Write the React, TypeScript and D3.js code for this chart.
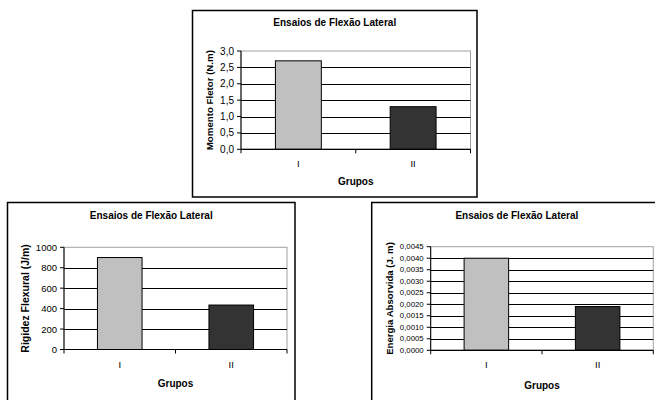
import React from "react";
import * as d3 from "d3";

// Groups compared in every chart
const categories: string[] = ["I", "II"];

// Momento fletor (N.m) per group
const momentoValues: number[] = [2.7, 1.3];
const momentoTicks: number[] = [0, 0.5, 1.0, 1.5, 2.0, 2.5, 3.0];

// Rigidez flexural (J/m) per group
const rigidezValues: number[] = [900, 435];
const rigidezTicks: number[] = [0, 200, 400, 600, 800, 1000];

// Energia absorvida (J.m) per group
const energiaValues: number[] = [0.004, 0.0019];
const energiaTicks: number[] = [
  0, 0.0005, 0.001, 0.0015, 0.002, 0.0025, 0.003, 0.0035, 0.004, 0.0045,
];

const chartTitle = "Ensaios de Flexão Lateral";
const xTitle = "Grupos";
const barColors = ["#c0c0c0", "#333333"];
const FONT = "'Liberation Sans', Arial, Helvetica, sans-serif";

type Box = { x0: number; y0: number; x1: number; y1: number };

interface BarChartProps {
  frame: Box;
  plot: Box;
  values: number[];
  ticks: number[];
  fmt: (v: number) => string;
  yTitle: string;
  yTitleX: number;
  yTitleSize: number;
  tickSize: number;
  titleY: number;
  catY: number;
  xTitleY: number;
}

const commaFmt = (spec: string) => (v: number) =>
  d3.format(spec)(v).replace(".", ",");

function BarChart(p: BarChartProps) {
  const { frame, plot, values, ticks } = p;
  const y = d3
    .scaleLinear()
    .domain([0, ticks[ticks.length - 1]])
    .range([plot.y1, plot.y0]);
  const x = d3
    .scaleBand<string>()
    .domain(categories)
    .range([plot.x0, plot.x1])
    .paddingInner(0.6)
    .paddingOuter(0.3);
  const step = x.step();
  const boundaries = d3.range(categories.length + 1).map((i) => plot.x0 + i * step);
  const frameCx = (frame.x0 + frame.x1) / 2;
  const plotCx = (plot.x0 + plot.x1) / 2;
  const plotCy = (plot.y0 + plot.y1) / 2;
  const yMax = ticks[ticks.length - 1];

  return (
    <g fontFamily={FONT} fill="#000">
      {/* chart area */}
      <rect
        x={frame.x0}
        y={frame.y0}
        width={frame.x1 - frame.x0}
        height={frame.y1 - frame.y0}
        fill="#fff"
        stroke="#000"
        strokeWidth={1.5}
      />
      <text
        x={frameCx}
        y={p.titleY}
        textAnchor="middle"
        dominantBaseline="central"
        fontSize={10}
        fontWeight="bold"
      >
        {chartTitle}
      </text>

      {/* plot area */}
      <rect
        x={plot.x0}
        y={plot.y0}
        width={plot.x1 - plot.x0}
        height={plot.y1 - plot.y0}
        fill="#fff"
        stroke="#a0a0a0"
        strokeWidth={1}
      />
      {ticks
        .filter((t) => t > 0 && t < yMax)
        .map((t) => (
          <line
            key={`g${t}`}
            x1={plot.x0}
            x2={plot.x1}
            y1={Math.round(y(t)) + 0.5}
            y2={Math.round(y(t)) + 0.5}
            stroke="#000"
            strokeWidth={1}
          />
        ))}

      {/* bars */}
      {values.map((v, i) => (
        <rect
          key={`b${i}`}
          x={x(categories[i])!}
          y={y(v)}
          width={x.bandwidth()}
          height={y(0) - y(v)}
          fill={barColors[i]}
          stroke="#000"
          strokeWidth={1}
        />
      ))}

      {/* y axis */}
      <line x1={plot.x0} x2={plot.x0} y1={plot.y0} y2={plot.y1} stroke="#000" strokeWidth={1} />
      {ticks.map((t) => (
        <g key={`t${t}`}>
          <line
            x1={plot.x0 - 4}
            x2={plot.x0}
            y1={y(t)}
            y2={y(t)}
            stroke="#000"
            strokeWidth={1}
          />
          <text
            x={plot.x0 - 7}
            y={y(t)}
            textAnchor="end"
            dominantBaseline="central"
            fontSize={p.tickSize}
          >
            {p.fmt(t)}
          </text>
        </g>
      ))}
      <text
        transform={`translate(${p.yTitleX},${plotCy}) rotate(-90)`}
        textAnchor="middle"
        dominantBaseline="central"
        fontSize={p.yTitleSize}
        fontWeight="bold"
      >
        {p.yTitle}
      </text>

      {/* x axis */}
      <line x1={plot.x0} x2={plot.x1} y1={plot.y1} y2={plot.y1} stroke="#000" strokeWidth={1.2} />
      {boundaries.map((bx, i) => (
        <line
          key={`xt${i}`}
          x1={bx}
          x2={bx}
          y1={plot.y1}
          y2={plot.y1 + 4}
          stroke="#000"
          strokeWidth={1}
        />
      ))}
      {categories.map((c) => (
        <text
          key={`c${c}`}
          x={x(c)! + x.bandwidth() / 2}
          y={p.catY}
          textAnchor="middle"
          dominantBaseline="central"
          fontSize={9.5}
        >
          {c}
        </text>
      ))}
      <text
        x={plotCx}
        y={p.xTitleY}
        textAnchor="middle"
        dominantBaseline="central"
        fontSize={10}
        fontWeight="bold"
      >
        {xTitle}
      </text>
    </g>
  );
}

export default function App() {
  return (
    <svg
      width={655}
      height={400}
      style={{ position: "absolute", left: 0, top: 0, background: "#fff" }}
    >
      <rect x={0} y={0} width={655} height={400} fill="#fff" />
      <BarChart
        frame={{ x0: 192.5, y0: 10.5, x1: 477, y1: 197 }}
        plot={{ x0: 241, y0: 51, x1: 470.5, y1: 149.3 }}
        values={momentoValues}
        ticks={momentoTicks}
        fmt={commaFmt(".1f")}
        yTitle="Momento Fletor (N.m)"
        yTitleX={209.5}
        yTitleSize={9.7}
        tickSize={10}
        titleY={22.7}
        catY={163}
        xTitleY={181.7}
      />
      <BarChart
        frame={{ x0: 7.5, y0: 202.5, x1: 295, y1: 404 }}
        plot={{ x0: 64, y0: 247.3, x1: 287, y1: 349.5 }}
        values={rigidezValues}
        ticks={rigidezTicks}
        fmt={d3.format("d")}
        yTitle="Rigidez Flexural (J/m)"
        yTitleX={25}
        yTitleSize={10.5}
        tickSize={9.5}
        titleY={215.7}
        catY={364}
        xTitleY={383}
      />
      <BarChart
        frame={{ x0: 371.7, y0: 202.5, x1: 662, y1: 404 }}
        plot={{ x0: 430.7, y0: 246.7, x1: 653.3, y1: 350.3 }}
        values={energiaValues}
        ticks={energiaTicks}
        fmt={commaFmt(".4f")}
        yTitle="Energia Absorvida (J. m)"
        yTitleX={389}
        yTitleSize={9.6}
        tickSize={7.8}
        titleY={215.7}
        catY={364}
        xTitleY={385.7}
      />
    </svg>
  );
}
